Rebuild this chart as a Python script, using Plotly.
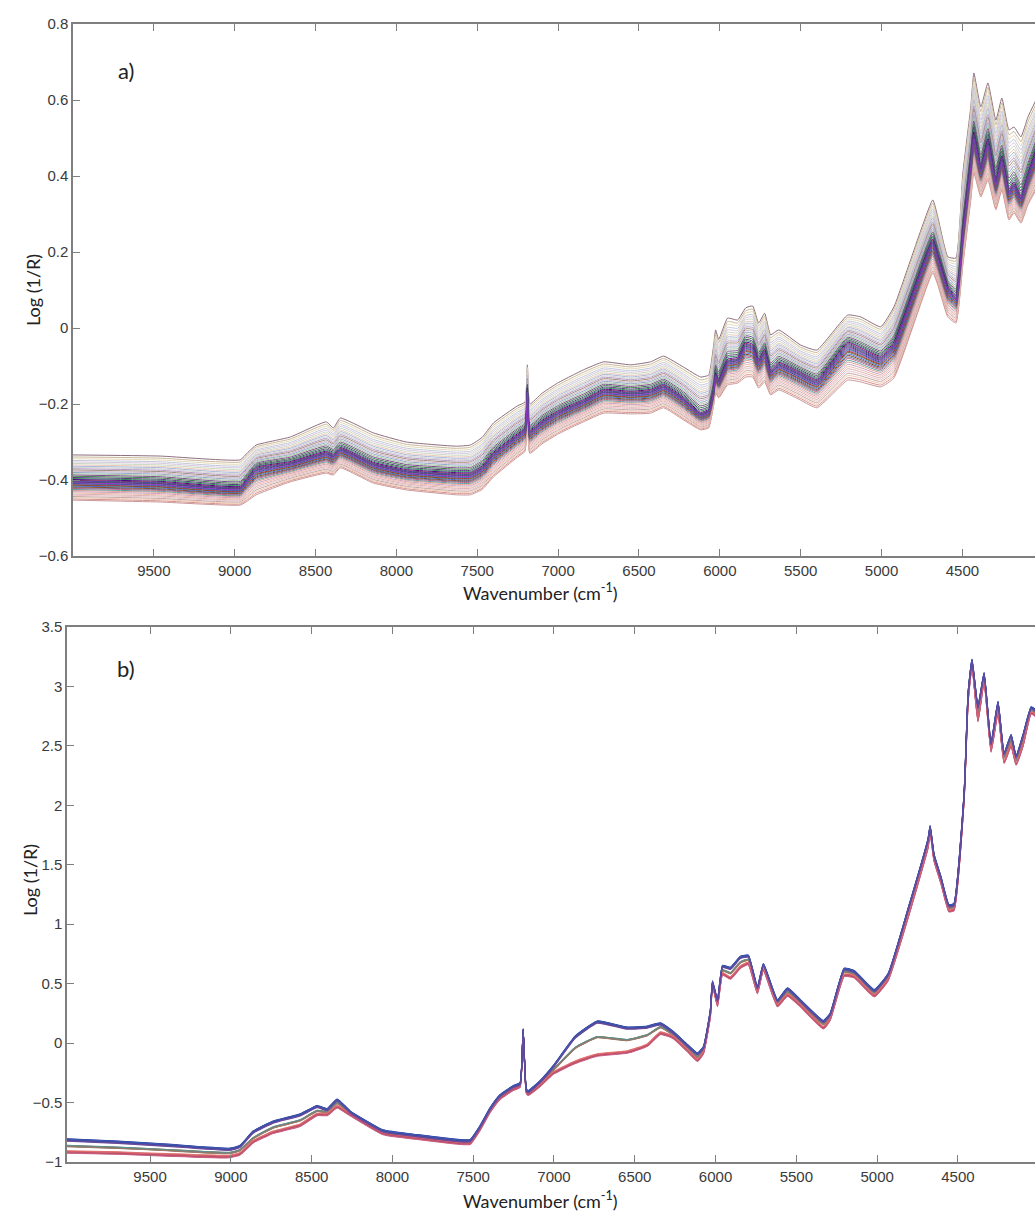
import plotly.graph_objects as go

W, H = 1035, 1213

# ---------------- Panel a) raw spectra ----------------
wn_a = [10000, 9461, 8966, 8920, 8867, 8657, 8434, 8390, 8347, 8143, 7939, 7629, 7543, 7470, 7400,
        7252, 7205, 7190, 7175, 7100, 7004, 6900, 6843, 6719, 6552, 6428, 6348, 6224, 6119, 6069,
        6038, 6026, 6007, 5952, 5890, 5840, 5797, 5760, 5723, 5686, 5636, 5500, 5400,
        5209, 5128, 5005, 4924, 4683, 4652, 4590, 4540, 4497, 4448, 4429, 4386, 4342,
        4293, 4256, 4212, 4181, 4138, 4095, 4045]
center_a = [-0.400, -0.405, -0.418, -0.395, -0.368, -0.353, -0.326, -0.334, -0.316, -0.355, -0.374,
            -0.382, -0.382, -0.365, -0.329, -0.280, -0.265, -0.160, -0.270, -0.245, -0.220, -0.200,
            -0.190, -0.163, -0.168, -0.163, -0.150, -0.184, -0.224, -0.216, -0.163, -0.120, -0.137,
            -0.084, -0.079, -0.039, -0.045, -0.084, -0.058, -0.111, -0.092, -0.118, -0.137, -0.039,
            -0.053, -0.076, -0.039, 0.232, 0.192, 0.108, 0.082, 0.258, 0.442, 0.513,
            0.424, 0.495, 0.389, 0.450, 0.363, 0.382, 0.345, 0.403, 0.468]
upper_a = [-0.334, -0.337, -0.347, -0.328, -0.308, -0.287, -0.247, -0.263, -0.237, -0.276, -0.300,
           -0.311, -0.308, -0.288, -0.250, -0.205, -0.195, -0.097, -0.200, -0.172, -0.145, -0.122,
           -0.110, -0.089, -0.097, -0.089, -0.074, -0.103, -0.129, -0.124, -0.045, -0.005, -0.030,
           0.026, 0.021, 0.053, 0.058, 0.013, 0.039, -0.018, -0.005, -0.045, -0.058, 0.034,
           0.029, 0.003, 0.055, 0.337, 0.292, 0.187, 0.184, 0.408, 0.582, 0.671,
           0.582, 0.645, 0.547, 0.605, 0.521, 0.529, 0.503, 0.555, 0.600]
lower_a = [-0.453, -0.458, -0.466, -0.455, -0.439, -0.405, -0.382, -0.387, -0.368, -0.408, -0.426,
           -0.439, -0.439, -0.425, -0.392, -0.340, -0.325, -0.220, -0.330, -0.305, -0.280, -0.258,
           -0.247, -0.224, -0.226, -0.224, -0.210, -0.242, -0.268, -0.263, -0.203, -0.170, -0.184,
           -0.150, -0.145, -0.129, -0.129, -0.158, -0.142, -0.176, -0.163, -0.190, -0.210, -0.137,
           -0.142, -0.155, -0.132, 0.145, 0.113, 0.029, 0.013, 0.166, 0.337, 0.408,
           0.345, 0.389, 0.311, 0.363, 0.284, 0.303, 0.276, 0.324, 0.363]
# relative position of each sample between the centre band (0) and the upper (+1) / lower (-1) envelope
pos_a = [1.00, -1.00, 0.92, -0.94, 0.85, -0.88, 0.78, -0.82, 0.72, -0.76, 0.66, -0.70,
         0.60, -0.64, 0.55, -0.58, 0.50, -0.52, 0.45, 0.40, 0.35, 0.30, 0.25, -0.47,
         0.20, -0.42, 0.15, -0.38, 0.10, -0.34, 0.06, -0.30, 0.02, -0.26, -0.02, -0.23,
         -0.05, -0.20, -0.08, -0.17, -0.11, -0.14]
col_a = ["#8E6E7E", "#C89898", "#C8B89A", "#D89090", "#E6D9B8", "#F0C8B0", "#BFC9D9", "#C0A8A0",
         "#D8C6E0", "#E8C0C8", "#C9D8C0", "#D8B0B0", "#E8C8B8", "#F0B8A8", "#A8B8D8", "#C9A0C0",
         "#CFCFCF", "#E0A090", "#B89AC8", "#9C8E7A", "#D0B0C8", "#8FA8C8", "#A7C4A0", "#5F9EA0",
         "#7A4A8A", "#C06080", "#3A7A4A", "#6B6B9B", "#5A3A7A", "#8B4513", "#2E8B57", "#4169E1",
         "#4B0082", "#556B2F", "#8B2252", "#B22222", "#3050A0", "#7B68AE", "#6A3D9A", "#1F5F8F",
         "#2F4F4F", "#9932CC"]

# ---------------- Panel b) pre-processed spectra ----------------
wn_b = [10014, 9700, 9395, 9005, 8943, 8862, 8738, 8571, 8466, 8404, 8342, 8262, 8058, 7847,
        7581, 7519, 7460, 7395, 7334, 7253, 7210, 7191, 7172, 7160, 7086, 7005, 6868, 6732, 6546,
        6422, 6341, 6261, 6174, 6112, 6075, 6032, 6019, 5988, 5957, 5908, 5846, 5797, 5741,
        5704, 5617, 5555, 5475, 5333, 5291, 5204, 5142, 5018, 4932, 4809, 4685, 4672, 4648,
        4605, 4556, 4525, 4462, 4437, 4413, 4376, 4338, 4295, 4252, 4214, 4171, 4140, 4097,
        4047, 4016]
mid_b = [-0.866, -0.880, -0.900, -0.924, -0.900, -0.800, -0.710, -0.650, -0.570, -0.580, -0.505,
         -0.590, -0.750, -0.790, -0.832, -0.832, -0.720, -0.563, -0.454, -0.378, -0.353, 0.109, -0.400,
         -0.420, -0.336, -0.227, -0.040, 0.050, 0.025, 0.067, 0.134, 0.067, -0.042, -0.118,
         -0.059, 0.252, 0.504, 0.336, 0.613, 0.588, 0.680, 0.700, 0.445, 0.639, 0.336, 0.429,
         0.336, 0.160, 0.220, 0.600, 0.580, 0.420, 0.555, 1.090, 1.680, 1.800, 1.560, 1.370,
         1.134, 1.143, 2.067, 2.908, 3.200, 2.773, 3.076, 2.487, 2.824, 2.403, 2.546, 2.378,
         2.546, 2.798, 2.773]
hi_b = [0.050, 0.045, 0.040, 0.030, 0.030, 0.050, 0.045, 0.045, 0.035, 0.020, 0.025, 0.010,
        0.010, 0.010, 0.010, 0.010, 0.010, 0.010, 0.010, 0.010, 0.010, 0.000, 0.010, 0.010, 0.010,
        0.027, 0.090, 0.126, 0.100, 0.067, 0.026, 0.020, 0.020, 0.025, 0.020, 0.020, 0.010,
        0.020, 0.030, 0.040, 0.040, 0.030, 0.020, 0.020, 0.020, 0.025, 0.020, 0.020, 0.020,
        0.020, 0.020, 0.020, 0.020, 0.030, 0.030, 0.020, 0.020, 0.020, 0.020, 0.020, 0.020,
        0.030, 0.020, 0.050, 0.030, 0.030, 0.040, 0.030, 0.040, 0.030, 0.040, 0.020, 0.020]
lo_b = [-0.050, -0.045, -0.040, -0.030, -0.030, -0.030, -0.040, -0.040, -0.030, -0.020, -0.030,
        -0.010, -0.010, -0.010, -0.010, -0.010, -0.010, -0.010, -0.010, -0.010, -0.010, 0.000, -0.010,
        -0.010, -0.020, -0.025, -0.120, -0.150, -0.100, -0.084, -0.050, -0.020, -0.020, -0.025,
        -0.020, -0.020, -0.010, -0.020, -0.030, -0.040, -0.040, -0.030, -0.020, -0.020, -0.020,
        -0.025, -0.020, -0.030, -0.020, -0.030, -0.020, -0.020, -0.020, -0.030, -0.030, -0.020,
        -0.020, -0.020, -0.020, -0.020, -0.020, -0.030, -0.020, -0.060, -0.030, -0.030, -0.040,
        -0.040, -0.040, -0.030, -0.040, -0.020, -0.020]
grp_b = ["mid", "mid", "mid", "mid", "mid", "mid",
         "lo", "lo", "lo", "lo", "lo",
         "hi", "hi", "hi", "hi", "hi", "hi"]
shift_b = [0.008, 0.003, -0.002, -0.006, 0.010, -0.010,
           0.006, 0.000, -0.006, 0.010, -0.010,
           0.010, 0.005, 0.000, -0.004, 0.008, -0.008]
col_b = ["#8B6A4A", "#6B8E5A", "#A07050", "#7A7A5A", "#5F8F8F", "#9A7A6A",
         "#C04050", "#D06070", "#B03A5A", "#E07070", "#C86080",
         "#2B2B9B", "#4B3B8B", "#1F3F9F", "#5A4AA0", "#3A5AB0", "#6A4A9A"]

ticks_x = [9500, 9000, 8500, 8000, 7500, 7000, 6500, 6000, 5500, 5000, 4500]
ticks_ya = [-0.6, -0.4, -0.2, 0, 0.2, 0.4, 0.6, 0.8]
labels_ya = ["\u22120.6", "\u22120.4", "\u22120.2", "0", "0.2", "0.4", "0.6", "0.8"]
ticks_yb = [-1, -0.5, 0, 0.5, 1, 1.5, 2, 2.5, 3, 3.5]
labels_yb = ["\u22121", "\u22120.5", "0", "0.5", "1", "1.5", "2", "2.5", "3", "3.5"]

fig = go.Figure()

for t, c in zip(pos_a, col_a):
    if t >= 0:
        y = [m + t * (u - m) for m, u in zip(center_a, upper_a)]
    else:
        y = [m - t * (l - m) for m, l in zip(center_a, lower_a)]
    fig.add_trace(go.Scatter(x=wn_a, y=y, mode="lines", line=dict(color=c, width=1, shape="spline", smoothing=0.4),
                             xaxis="x", yaxis="y", showlegend=False, hoverinfo="skip"))

for g, s, c in zip(grp_b, shift_b, col_b):
    if g == "hi":
        y = [m + h + s for m, h in zip(mid_b, hi_b)]
    elif g == "lo":
        y = [m + l + s for m, l in zip(mid_b, lo_b)]
    else:
        y = [m + s * 0.5 for m in mid_b]
    fig.add_trace(go.Scatter(x=wn_b, y=y, mode="lines", line=dict(color=c, width=1.2, shape="spline", smoothing=0.4),
                             xaxis="x2", yaxis="y2", showlegend=False, hoverinfo="skip"))

top_px, bot_px = 24, 51
ph = H - top_px - bot_px


def fy(px):
    return (H - bot_px - px) / ph


axis_col = "#7f7f7f"
tick_font = dict(family="Liberation Sans, Arial", size=15, color="#3a3a3a")

common_x = dict(tickvals=ticks_x, ticktext=[str(v) for v in ticks_x], ticks="inside", ticklen=7,
                tickcolor=axis_col, tickwidth=1, showline=True, linecolor=axis_col, linewidth=1.5,
                mirror="ticks", showgrid=False, zeroline=False, tickfont=tick_font)
common_y = dict(ticks="inside", ticklen=7, tickcolor=axis_col, tickwidth=1, showline=True,
                linecolor=axis_col, linewidth=1.5, showgrid=False, zeroline=False, tickfont=tick_font)

fig.update_layout(
    width=W, height=H,
    margin=dict(l=0, r=0, t=top_px, b=bot_px),
    paper_bgcolor="white", plot_bgcolor="white",
    showlegend=False,
    xaxis=dict(domain=[73 / W, 1], range=[10000, 4051], anchor="y", **common_x),
    yaxis=dict(domain=[fy(556), 1], range=[-0.6, 0.8], anchor="x",
               tickvals=ticks_ya, ticktext=labels_ya, **common_y),
    yaxis3=dict(overlaying="y", side="right", anchor="x", range=[-0.6, 0.8], tickvals=ticks_ya,
                ticks="inside", ticklen=7, tickcolor=axis_col, showline=False, showticklabels=False,
                showgrid=False, zeroline=False),
    xaxis2=dict(domain=[67 / W, 1], range=[10014, 4023], anchor="y2", **common_x),
    yaxis2=dict(domain=[0, fy(627)], range=[-1, 3.5], anchor="x2",
                tickvals=ticks_yb, ticktext=labels_yb, **common_y),
    yaxis4=dict(overlaying="y2", side="right", anchor="x2", range=[-1, 3.5], tickvals=ticks_yb,
                ticks="inside", ticklen=7, tickcolor=axis_col, showline=False, showticklabels=False,
                showgrid=False, zeroline=False),
)

title_font = dict(family="Lato, Open Sans", size=18, color="#222222")
ann = [
    dict(text="Wavenumber (cm<sup>-1</sup>)", x=540 / W, y=fy(592)),
    dict(text="Wavenumber (cm<sup>-1</sup>)", x=540 / W, y=fy(1200)),
    dict(text="Log (1/R)", x=33 / W, y=fy(290), textangle=-90),
    dict(text="Log (1/R)", x=30 / W, y=fy(880), textangle=-90),
]
for a in ann:
    fig.add_annotation(xref="paper", yref="paper", showarrow=False, font=title_font,
                       xanchor="center", yanchor="middle", **a)
lab_font = dict(family="Lato, Open Sans", size=22, color="#222222")
fig.add_annotation(text="a)", xref="paper", yref="paper", x=126 / W, y=fy(70), showarrow=False,
                   xanchor="center", yanchor="middle", font=lab_font)
fig.add_annotation(text="b)", xref="paper", yref="paper", x=126 / W, y=fy(668), showarrow=False,
                   xanchor="center", yanchor="middle", font=lab_font)

fig.write_html("out.html")
